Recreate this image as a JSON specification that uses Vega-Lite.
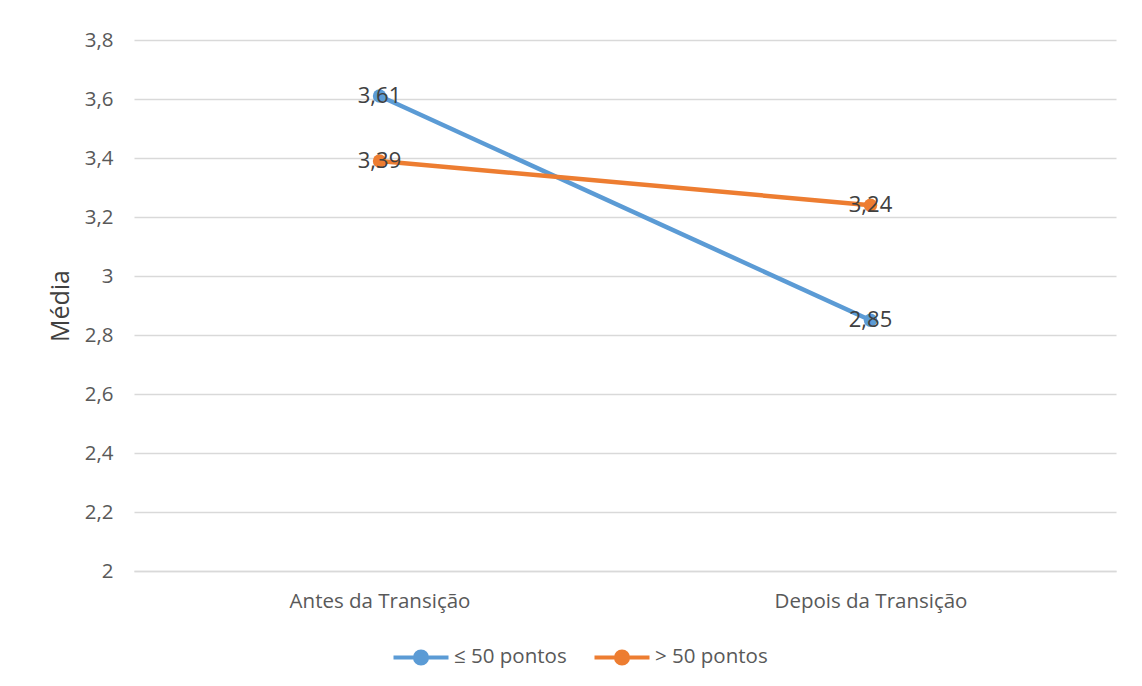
{
  "$schema": "https://vega.github.io/schema/vega-lite/v6.json",
  "width": 982,
  "height": 531,
  "autosize": "none",
  "padding": {"left": 134, "top": 40, "right": 26, "bottom": 115},
  "background": "white",
  "config": {
    "locale": {"number": {"decimal": ",", "thousands": ".", "grouping": [3], "currency": ["", ""]}},
    "font": "Open Sans",
    "view": {"stroke": null}
  },
  "data": {
    "values": [
      {"periodo": "Antes da Transição", "grupo": "≤ 50 pontos", "media": 3.61},
      {"periodo": "Depois da Transição", "grupo": "≤ 50 pontos", "media": 2.85},
      {"periodo": "Antes da Transição", "grupo": "> 50 pontos", "media": 3.39},
      {"periodo": "Depois da Transição", "grupo": "> 50 pontos", "media": 3.24}
    ]
  },
  "encoding": {
    "x": {
      "field": "periodo", "type": "nominal", "sort": null,
      "scale": {"type": "point", "padding": 0.5},
      "axis": {
        "title": null, "labelAngle": 0, "ticks": false, "domainColor": "#D9D9D9", "domainWidth": 1.5,
        "labelFont": "Open Sans", "labelFontSize": 20.5, "labelColor": "#595959", "labelPadding": 20, "labelLimit": 0
      }
    },
    "y": {
      "field": "media", "type": "quantitative",
      "scale": {"domain": [2, 3.8], "nice": false, "zero": false},
      "axis": {
        "title": "Média", "values": [2, 2.2, 2.4, 2.6, 2.8, 3, 3.2, 3.4, 3.6, 3.8], "format": ".2~f",
        "domain": false, "ticks": false, "gridColor": "#D9D9D9", "gridWidth": 1.5,
        "labelFont": "Open Sans", "labelFontSize": 20.5, "labelColor": "#595959", "labelPadding": 21,
        "titleFont": "Open Sans", "titleFontSize": 25, "titleFontWeight": "normal", "titleColor": "#404040", "titlePadding": 11
      }
    },
    "color": {
      "field": "grupo", "type": "nominal", "sort": ["≤ 50 pontos", "> 50 pontos"],
      "scale": {"domain": ["≤ 50 pontos", "> 50 pontos"], "range": ["#5B9BD5", "#ED7D31"]},
      "legend": {
        "title": null, "orient": "none", "direction": "horizontal", "legendX": 274, "legendY": 604,
        "symbolType": "M -2.5 0 L 2.5 0 M -0.55 0 A 0.55 0.55 0 1 0 0.55 0 A 0.55 0.55 0 1 0 -0.55 0 Z",
        "symbolSize": 484, "symbolStrokeWidth": 4, "symbolOpacity": 1,
        "labelFont": "Open Sans", "labelFontSize": 20.5, "labelColor": "#595959", "labelOffset": 20, "columnPadding": 19,
        "encode": {"symbols": {"update": {"fill": {"scale": "color", "field": "value"}, "stroke": {"scale": "color", "field": "value"}}}}
      }
    }
  },
  "layer": [
    {"mark": {"type": "line", "strokeWidth": 4.5, "point": {"filled": true, "size": 180, "opacity": 1}}},
    {
      "mark": {"type": "text", "fontSize": 22, "font": "Open Sans", "color": "#404040", "baseline": "middle", "align": "center"},
      "encoding": {"text": {"field": "media", "type": "quantitative", "format": ".2f"}, "color": {"value": "#404040"}}
    }
  ]
}
